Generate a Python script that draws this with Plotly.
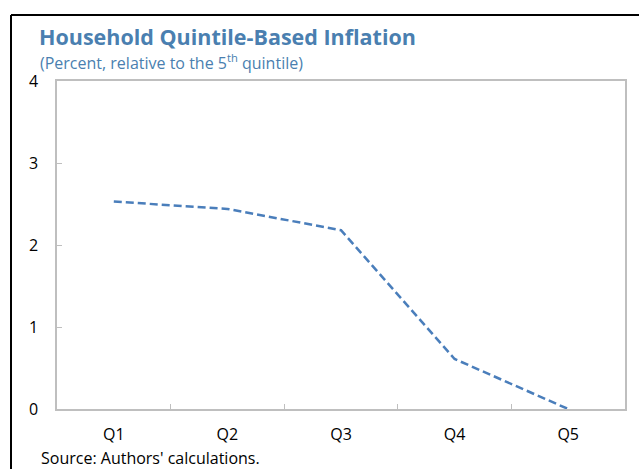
import plotly.graph_objects as go

categories = ["Q1", "Q2", "Q3", "Q4", "Q5"]
values = [2.53, 2.44, 2.18, 0.61, 0.0]
y_ticks = [0, 1, 2, 3, 4]

W, H = 639, 469
L, R, T, B = 57, 14, 81, 60
pw, ph = W - L - R, H - T - B

def px_x(p):
    return (p - L) / pw

def px_y(p):
    return (H - B - p) / ph

blue = "#4A7EBB"
title_blue = "#4A7FB0"
font = "Open Sans, Noto Sans, sans-serif"

fig = go.Figure()
fig.add_trace(go.Scatter(
    x=categories, y=values, mode="lines",
    line=dict(color=blue, width=2.5, dash="8px,4px"),
    showlegend=False, hoverinfo="skip",
))

fig.update_layout(
    width=W, height=H,
    margin=dict(l=L, r=R, t=T, b=B),
    paper_bgcolor="white", plot_bgcolor="white",
    font=dict(family=font, size=16, color="black"),
    xaxis=dict(
        type="category", showgrid=False, zeroline=False,
        showline=True, linecolor="#BFBFBF", linewidth=1.5, mirror=True,
        ticks="inside", tickson="boundaries", ticklen=5, tickcolor="#BFBFBF",
        tickfont=dict(size=16, color="black"), ticklabelstandoff=10,
        range=[-0.5, 4.5],
    ),
    yaxis=dict(
        range=[0, 4], tickvals=y_ticks, showgrid=False, zeroline=False,
        showline=True, linecolor="#BFBFBF", linewidth=1.5, mirror=True,
        ticks="inside", ticklen=5, tickcolor="#BFBFBF",
        tickfont=dict(size=16, color="black"), ticklabelstandoff=14,
    ),
    shapes=[
        dict(type="line", xref="paper", yref="paper",
             x0=px_x(11), x1=px_x(640), y0=px_y(15), y1=px_y(15),
             line=dict(color="black", width=2)),
        dict(type="line", xref="paper", yref="paper",
             x0=px_x(11), x1=px_x(11), y0=px_y(15), y1=px_y(470),
             line=dict(color="black", width=2)),
    ],
    annotations=[
        dict(text="<b>Household Quintile-Based Inflation</b>", xref="paper", yref="paper",
             x=px_x(37), y=px_y(36), xanchor="left", yanchor="middle", showarrow=False,
             font=dict(size=21.5, color=title_blue, family=font)),
        dict(text="(Percent, relative to the 5<sup>th</sup> quintile)", xref="paper", yref="paper",
             x=px_x(38), y=px_y(62), xanchor="left", yanchor="middle", showarrow=False,
             font=dict(size=16, color=title_blue, family=font)),
        dict(text="Source: Authors' calculations.", xref="paper", yref="paper",
             x=px_x(39), y=px_y(458), xanchor="left", yanchor="middle", showarrow=False,
             font=dict(size=16, color="black", family=font)),
    ],
)

fig.write_html("out.html", config={"displayModeBar": False})

with open("out.html", "r", encoding="utf-8") as f:
    html = f.read()
html = html.replace("<head>", "<head><style>html,body{margin:0;padding:0;overflow:hidden;}</style>", 1)
with open("out.html", "w", encoding="utf-8") as f:
    f.write(html)
